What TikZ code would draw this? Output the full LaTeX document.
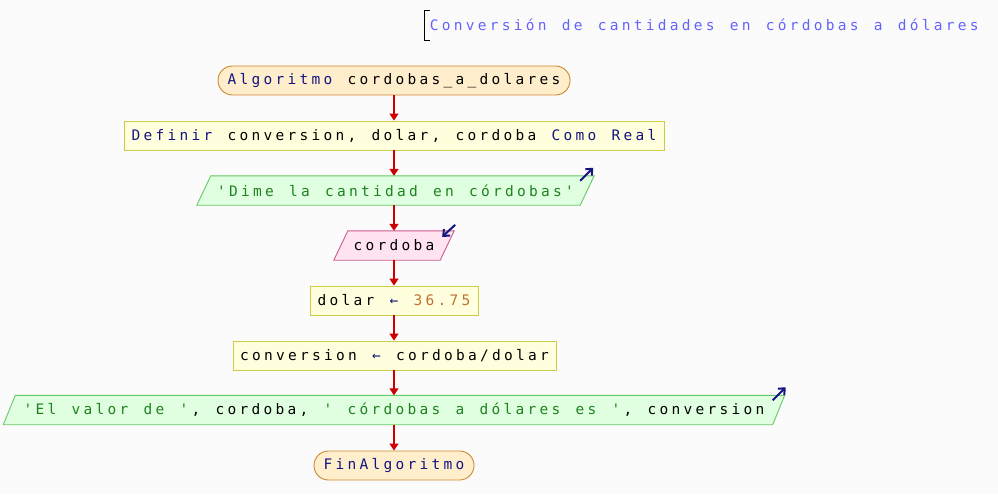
\documentclass[tikz,border=0pt]{standalone}
\usepackage{fontspec}
\newfontfamily\mono[Ligatures=TeXOff]{DejaVu Sans Mono}
\usetikzlibrary{arrows.meta}
\ExplSyntaxOn
\cs_new:Npn \mtcell #1 { \hbox_to_wd:nn {12pt} { \hfil #1 \hfil } }
\NewDocumentCommand \mt { m } { \str_map_function:nN { #1 } \mtcell }
\ExplSyntaxOff
\definecolor{bg}{RGB}{251,251,251}
\definecolor{termfill}{RGB}{255,238,204}
\definecolor{termdraw}{RGB}{204,136,51}
\definecolor{procfill}{RGB}{255,255,221}
\definecolor{procdraw}{RGB}{204,204,68}
\definecolor{outfill}{RGB}{224,255,224}
\definecolor{outdraw}{RGB}{102,200,102}
\definecolor{infill}{RGB}{255,228,240}
\definecolor{indraw}{RGB}{204,90,140}
\definecolor{kw}{RGB}{20,20,128}
\definecolor{str}{RGB}{30,130,30}
\definecolor{num}{RGB}{192,112,48}
\definecolor{ttl}{RGB}{100,100,255}
\definecolor{flow}{RGB}{204,0,0}
\tikzset{
  base/.style={inner sep=0pt, minimum height=29pt, font=\mono\fontsize{14.5}{17}\selectfont, text=black},
  term/.style={base, draw=termdraw, fill=termfill, rounded corners=14.5pt, line width=0.9pt},
  proc/.style={base, draw=procdraw, fill=procfill, line width=0.9pt},
  iobox/.style={base},
  flowarrow/.style={draw=flow, line width=1.6pt, -{Triangle[length=7pt,width=9pt]}},
  ind/.style={draw=kw, line width=2pt, -{Straight Barb[length=5pt,width=9pt]}},
}
\begin{document}
\begin{tikzpicture}[x=1pt,y=-1pt]
\fill[bg] (0,0) rectangle (998,495);
\useasboundingbox (0,0) rectangle (998,495);
% title
\draw[black, line width=0.9pt] (430,10) -- (424,10) -- (424,40) -- (430,40);
\node[anchor=west, inner sep=0pt, font=\mono\fontsize{14.5}{17}\selectfont, text=ttl] (title) at (428,25) {\mt{Conversión de cantidades en córdobas a dólares}};
% nodes
\node[term, minimum width=352pt] (start) at (394,80.5) {\textcolor{kw}{\mt{Algoritmo }}\mt{cordobas_a_dolares}};
\node[proc, minimum width=540pt] (def) at (394,135.5) {\textcolor{kw}{\mt{Definir }}\mt{conversion, dolar, cordoba }\textcolor{kw}{\mt{Como Real}}};
\node[iobox, minimum width=383pt] (out1) at (395.5,190.5) {};
\node[iobox, minimum width=106pt] (in1) at (394,245.5) {};
\node[proc, minimum width=168pt] (asg1) at (394,300.5) {\mt{dolar }\textcolor{kw}{\mt{←}}\textcolor{num}{\mt{ 36.75}}};
\node[proc, minimum width=323pt] (asg2) at (394.5,355.5) {\mt{conversion }\textcolor{kw}{\mt{←}}\mt{ cordoba/dolar}};
\node[iobox, minimum width=769pt] (out2) at (394,410) {};
\node[term, minimum width=160pt] (end) at (394,465.5) {\textcolor{kw}{\mt{FinAlgoritmo}}};
% parallelograms
\draw[draw=outdraw, fill=outfill, line width=0.9pt] ([xshift=7pt]out1.north west) -- ([xshift=7pt]out1.north east) -- ([xshift=-7pt]out1.south east) -- ([xshift=-7pt]out1.south west) -- cycle;
\node[base] (out1t) at (out1.center) {\textcolor{str}{\mt{'Dime la cantidad en córdobas'}}};
\draw[draw=indraw, fill=infill, line width=0.9pt] ([xshift=7pt]in1.north west) -- ([xshift=7pt]in1.north east) -- ([xshift=-7pt]in1.south east) -- ([xshift=-7pt]in1.south west) -- cycle;
\node[base] (in1t) at (in1.center) {\mt{cordoba}};
\draw[draw=outdraw, fill=outfill, line width=0.9pt] ([xshift=6pt]out2.north west) -- ([xshift=6pt]out2.north east) -- ([xshift=-6pt]out2.south east) -- ([xshift=-6pt]out2.south west) -- cycle;
\node[base] (out2t) at (out2.center) {\textcolor{str}{\mt{'El valor de '}}\mt{, cordoba, }\textcolor{str}{\mt{' córdobas a dólares es '}}\mt{, conversion}};
% indicators
\coordinate (o1a) at ([xshift=-7pt,yshift=-5pt]out1.north east);
\coordinate (o1b) at ([xshift=6pt,yshift=8pt]out1.north east);
\draw[ind] (o1a) -- (o1b);
\coordinate (i1a) at ([xshift=8pt,yshift=6pt]in1.north east);
\coordinate (i1b) at ([xshift=-5pt,yshift=-6pt]in1.north east);
\draw[ind] (i1a) -- (i1b);
\coordinate (o2a) at ([xshift=-6pt,yshift=-5pt]out2.north east);
\coordinate (o2b) at ([xshift=7pt,yshift=8pt]out2.north east);
\draw[ind] (o2a) -- (o2b);
% flow
\draw[flowarrow] (start) -- (def);
\draw[flowarrow] (def) -- (def.south |- out1.north);
\draw[flowarrow] (out1.south -| in1.north) -- (in1);
\draw[flowarrow] (in1) -- (asg1);
\draw[flowarrow] (asg1.south) -- (asg1.south |- asg2.north);
\draw[flowarrow] (asg2.south -| out2.north) -- (out2.north);
\draw[flowarrow] (out2) -- (end);
\end{tikzpicture}
\end{document}
